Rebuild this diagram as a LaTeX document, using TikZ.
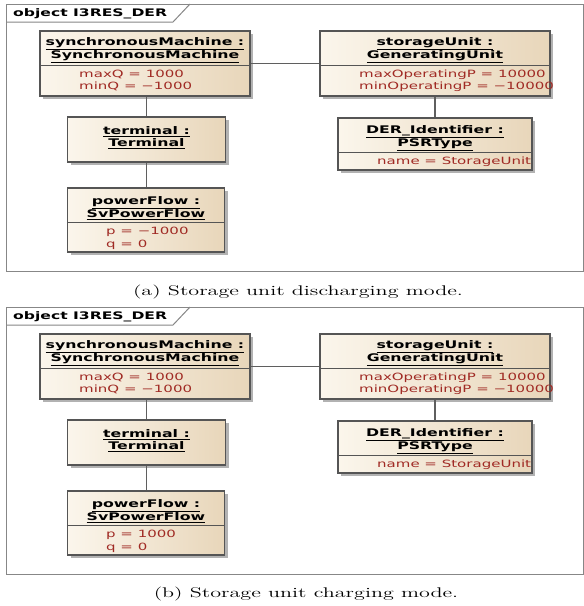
\documentclass[tikz,border=0pt]{standalone}
\usepackage{fontspec}
\usepackage{graphicx}
\usetikzlibrary{shadows}
\newfontfamily\eafont[FakeStretch=1.5]{DejaVu Sans}
\definecolor{attrred}{RGB}{160,42,36}
\definecolor{boxleft}{RGB}{251,246,236}
\definecolor{boxright}{RGB}{232,214,186}
\definecolor{boxborder}{RGB}{85,85,85}
\definecolor{connc}{RGB}{95,95,95}
\definecolor{framec}{RGB}{135,135,135}
\tikzset{
  umlbox/.style={draw=boxborder, line width=1.1pt, left color=boxleft, right color=boxright,
    drop shadow={shadow xshift=3pt, shadow yshift=-3pt, fill=black, opacity=0.3}, inner sep=0pt},
  hdr/.style={font=\eafont\bfseries\fontsize{10.5}{12}\selectfont, align=center, inner sep=0pt},
  attr/.style={font=\eafont\fontsize{10}{12.5}\selectfont, text=attrred, align=left, anchor=west, inner sep=0pt},
  tabtext/.style={font=\eafont\bfseries\fontsize{10.4}{12}\selectfont, anchor=west, inner sep=0pt},
  conn/.style={draw=connc, line width=1.1pt},
  divider/.style={draw=boxborder, line width=0.8pt},
  framestyle/.style={draw=framec, line width=1pt},
  captionstyle/.style={inner sep=0pt},
}
\newcommand\drawumlpanel[3]{%
\begin{scope}[shift={(0,#2)}]
  \draw[framestyle] (6,4) -- (583.5,4) -- (583.5,271) -- (6,271) -- cycle;
  \draw[framestyle] (6,22) -- (173,22) -- (190,4);
  \node[tabtext] (tab#1) at (13,13.5) {object I3RES\_DER};
  % boxes
  \node[umlbox, minimum width=210pt, minimum height=65pt] (sm#1) at (145,63.5) {};
  \node[umlbox, minimum width=230pt, minimum height=65pt] (su#1) at (435,63.5) {};
  \node[umlbox, minimum width=158pt, minimum height=45pt] (tm#1) at (146.5,139.5) {};
  \node[umlbox, minimum width=157pt, minimum height=64pt] (pf#1) at (146,220) {};
  \node[umlbox, minimum width=194pt, minimum height=52pt] (der#1) at (435,144) {};
  % dividers
  \draw[divider] (sm#1.west |- 0,65) -- (sm#1.east |- 0,65);
  \draw[divider] (su#1.west |- 0,65) -- (su#1.east |- 0,65);
  \draw[divider] (pf#1.west |- 0,222) -- (pf#1.east |- 0,222);
  \draw[divider] (der#1.west |- 0,152) -- (der#1.east |- 0,152);
  % texts
  \node[hdr] (smh#1) at (145,50.5) {\underline{synchronousMachine :}\\\underline{SynchronousMachine}};
  \node[attr] (sma#1) at (79,80.5) {maxQ = 1000\\minQ = −1000};
  \node[hdr] (suh#1) at (435,50.5) {\underline{storageUnit :}\\\underline{GeneratingUnit}};
  \node[attr] (sua#1) at (359,80.5) {maxOperatingP = 10000\\minOperatingP = −10000};
  \node[hdr] (tmh#1) at (146.5,138) {\underline{terminal :}\\\underline{Terminal}};
  \node[hdr] (pfh#1) at (146,208) {\underline{powerFlow :}\\\underline{SvPowerFlow}};
  \node[attr] (pfa#1) at (106,238.5) {p = #3\\q = 0};
  \node[hdr] (derh#1) at (435,138) {\underline{DER\_Identifier :}\\\underline{PSRType}};
  \node[attr] (dera#1) at (377,162) {name = StorageUnit};
  % connectors
  \draw[conn] (sm#1) -- (su#1);
  \draw[conn] (tm#1.north |- sm#1.south) -- (tm#1.north);
  \draw[conn] (tm#1.south) -- (tm#1.south |- pf#1.north);
  \draw[conn] (der#1.north |- su#1.south) -- (der#1.north);
\end{scope}}
\begin{document}
\begin{tikzpicture}[x=1pt,y=-1pt]
  \useasboundingbox[fill=white] (0,0) rectangle (584,606);
  \drawumlpanel{a}{0}{−1000}
  \node[captionstyle] (capa) at (298,292) {\scalebox{1.58}[1]{\fontsize{14}{16}\selectfont (a) Storage unit discharging mode.}};
  \drawumlpanel{b}{303}{1000}
  \node[captionstyle] (capb) at (306,594) {\scalebox{1.58}[1]{\fontsize{14}{16}\selectfont (b) Storage unit charging mode.}};
\end{tikzpicture}
\end{document}
